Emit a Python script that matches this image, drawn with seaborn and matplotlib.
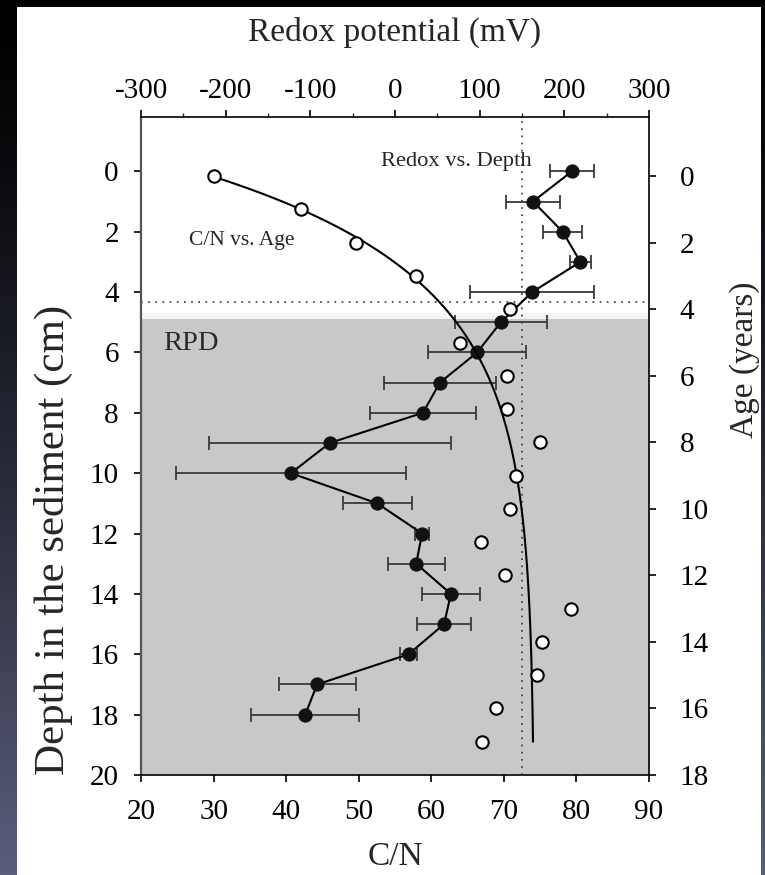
import numpy as np
import pandas as pd
import matplotlib
matplotlib.use("Agg")
import matplotlib.pyplot as plt
import seaborn as sns
from matplotlib.patches import Rectangle
from matplotlib.ticker import MultipleLocator

# ---------------- data ----------------
age_years = list(range(18))
cn_ratio = [30.0, 42.1, 49.6, 57.9, 70.9, 64.0, 70.4, 70.5, 75.0, 71.7,
            70.9, 66.8, 70.2, 79.2, 75.2, 74.6, 68.9, 67.0]

depth_cm = list(range(19))
redox_mv = [209, 163, 198, 219, 162, 125, 97, 53, 33, -77, -123, -21,
            32, 25, 66, 58, 16, -92, -106]
redox_err = [25.6, 32, 23.4, 12.4, 73.4, 54.7, 58, 66, 62.6, 142.7, 136,
             40.8, 8.5, 33.5, 34, 32, 10.2, 45.5, 64]

# regression curve shown in the reference: C/N = y0 + a*(1 - exp(-b*age))
fit_y0 = 29.8
fit_a = 44.4
fit_b = 0.323
fit_age_range = [0, 17]

rpd_top_depth = 4.9      # top of the grey RPD zone (cm)
rpd_line_depth = 4.32    # dotted horizontal line (cm)
redox_ref_mv = 150       # dotted vertical line (mV)

cn_ticks = [20, 30, 40, 50, 60, 70, 80, 90]
redox_ticks = [-300, -200, -100, 0, 100, 200, 300]
depth_ticks = [0, 2, 4, 6, 8, 10, 12, 14, 16, 18, 20]
age_ticks = [0, 2, 4, 6, 8, 10, 12, 14, 16, 18]

fit_age = np.linspace(fit_age_range[0], fit_age_range[1], 300)
fit_cn = fit_y0 + fit_a * (1 - np.exp(-fit_b * fit_age))

# ---------------- style ----------------
sns.set_style("ticks")
plt.rcParams["font.family"] = ["Liberation Serif", "DejaVu Serif"]
plt.rcParams["axes.linewidth"] = 1.2
plt.rcParams["axes.unicode_minus"] = False

W, H = 765, 875
fig = plt.figure(figsize=(W / 100, H / 100), dpi=100)

# background: dark gradient + white panel
bg = fig.add_axes([0, 0, 1, 1], zorder=-5)
tt = np.linspace(0, 1, H) ** 1.3
top_c = np.array([0, 0, 0]) / 255
bot_c = np.array([90, 94, 124]) / 255
grad = (top_c[None, :] + (bot_c - top_c)[None, :] * tt[:, None])[:, None, :]
bg.imshow(grad, extent=[0, 1, 0, 1], aspect="auto", origin="upper")
bg.add_patch(Rectangle((17 / W, 0), (761 - 17) / W, (H - 7) / H,
                       facecolor="white", edgecolor="none"))
bg.set_xlim(0, 1)
bg.set_ylim(0, 1)
bg.axis("off")

L, R, T, B = 141, 649, 117, 775
ax = fig.add_axes([L / W, (H - B) / H, (R - L) / W, (B - T) / H])
ax.set_facecolor("white")
ax_top = ax.twiny()
ax_right = ax.twinx()

# limits
ax.set_xlim(cn_ticks[0], cn_ticks[-1])
ax.set_ylim(20, -1.8)
ax_top.set_xlim(redox_ticks[0], redox_ticks[-1])
ax_right.set_ylim(18, -1.78)

# grey RPD zone and reference lines
ax.axhspan(4.7, rpd_top_depth, color="#f6f6f6", lw=0, zorder=0)
ax.axhspan(rpd_top_depth, 20, color="#c8c8c8", lw=0, zorder=0)
ax.axhline(rpd_line_depth, color="#333333", lw=1.2, ls=(0, (1, 3.3)), zorder=1)
ax_top.axvline(redox_ref_mv, color="#333333", lw=1.2, ls=(0, (1, 3.3)), zorder=1)

# redox vs depth (filled circles with horizontal error bars)
ax_top.errorbar(redox_mv, depth_cm, xerr=redox_err, fmt="none",
                ecolor="#3a3a3a", elinewidth=1.3, capsize=5, capthick=1.3, zorder=2)
sns.lineplot(x=redox_mv, y=depth_cm, sort=False, estimator=None, ax=ax_top,
             color="black", lw=1.5, marker="o", markersize=9.5,
             markerfacecolor="#111111", markeredgecolor="#111111", zorder=3)

# C/N vs age (open circles and regression curve)
sns.lineplot(x=fit_cn, y=fit_age, sort=False, estimator=None, ax=ax_right,
             color="black", lw=1.5, zorder=3)
sns.scatterplot(x=cn_ratio, y=age_years, ax=ax_right, s=80, color="white",
                edgecolor="black", linewidth=1.5, zorder=4)

# annotations
ax_top.text(-16.5, -0.19, "Redox vs. Depth", fontsize=16.2, va="baseline", ha="left")
ax_right.text(26.6, 2.08, "C/N vs. Age", fontsize=15.5, va="baseline", ha="left")
ax.text(23.0, 5.91, "RPD", fontsize=20.5, color="#2a2a2a", va="baseline", ha="left")

# ticks
ax.set_xticks(cn_ticks)
ax.set_yticks(depth_ticks)
ax_top.set_xticks(redox_ticks)
ax_top.xaxis.set_minor_locator(MultipleLocator(50))
ax_right.set_yticks(age_ticks)

tick_fs = 21
ax.tick_params(axis="x", which="major", direction="out", length=5, width=1.2,
               labelsize=tick_fs, pad=12, colors="black")
ax.tick_params(axis="y", which="major", direction="out", length=5, width=1.2,
               labelsize=tick_fs, pad=11, colors="black")
ax_top.tick_params(axis="x", which="major", direction="out", length=5, width=1.2,
                   labelsize=tick_fs, pad=4.5, colors="black")
ax_top.tick_params(axis="x", which="minor", direction="out", length=3, width=1.0)
ax_right.tick_params(axis="y", which="major", direction="out", length=5, width=1.2,
                     labelsize=tick_fs, pad=17, colors="black")

# spines
for s in ["top", "right"]:
    ax.spines[s].set_visible(False)
for s in ["left", "bottom", "right"]:
    ax_top.spines[s].set_visible(False)
for s in ["left", "bottom", "top"]:
    ax_right.spines[s].set_visible(False)
ax.spines["left"].set_color("#555555")
ax.spines["left"].set_linewidth(1.6)
ax.spines["bottom"].set_color("black")
ax_top.spines["top"].set_color("black")
ax_right.spines["right"].set_color("black")

# axis labels
lab_fs = 24
ax.set_xlabel("C/N", fontsize=lab_fs)
ax.set_ylabel("Depth in the sediment (cm)", fontsize=31)
ax_top.set_xlabel("Redox potential (mV)", fontsize=lab_fs)
ax_right.set_ylabel("Age (years)", fontsize=lab_fs)

ax.xaxis.set_label_coords(0.5, (B - 857) / (B - T))
ax.yaxis.set_label_coords((53 - L) / (R - L), (B - 540) / (B - T))
ax_top.xaxis.set_label_coords(0.5, (B - 32) / (B - T))
ax_right.yaxis.set_label_coords((745 - L) / (R - L), (B - 360) / (B - T))
for lab in [ax.xaxis.label, ax.yaxis.label, ax_top.xaxis.label, ax_right.yaxis.label]:
    lab.set_verticalalignment("center")
    lab.set_horizontalalignment("center")

fig.savefig("out.png", dpi=100)
